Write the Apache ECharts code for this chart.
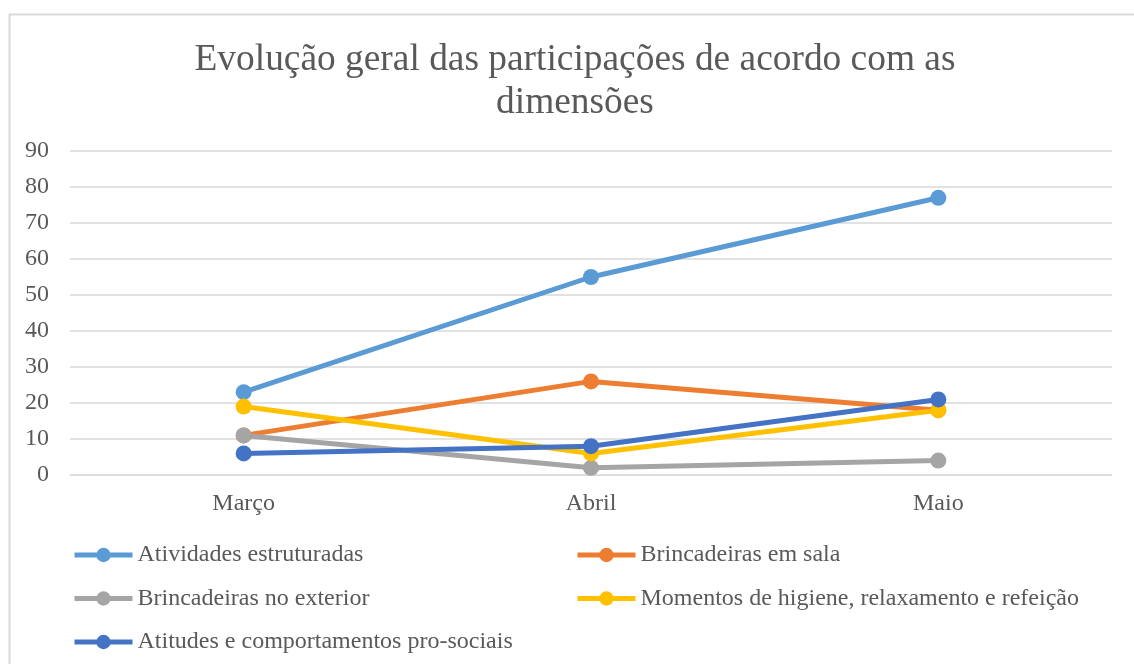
<!DOCTYPE html>
<html>
<head>
    <meta charset="utf-8">
    <script src="https://cdn.jsdelivr.net/npm/echarts@6/dist/echarts.min.js"></script>
    <style>
        html, body { margin: 0; padding: 0; background: #fff; }
        #chart { width: 1134px; height: 664px; }
    </style>
</head>
<body>
    <div id="chart"></div>
    <script>
        // data
        var months = ['Março', 'Abril', 'Maio'];
        var seriesNames = [
            'Atividades estruturadas',
            'Brincadeiras em sala',
            'Brincadeiras no exterior',
            'Momentos de higiene, relaxamento e refeição',
            'Atitudes e comportamentos pro-sociais'
        ];
        var atividades = [23, 55, 77];
        var brincSala = [11, 26, 18];
        var brincExterior = [11, 2, 4];
        var momentos = [19, 6, 18];
        var atitudes = [6, 8, 21];

        var values = [atividades, brincSala, brincExterior, momentos, atitudes];
        var colors = ['#5B9BD5', '#ED7D31', '#A5A5A5', '#FFC000', '#4472C4'];
        var font = "'Liberation Serif', 'Times New Roman', serif";

        var chart = echarts.init(document.getElementById('chart'), null, { renderer: 'canvas' });

        var series = seriesNames.map(function (name, i) {
            return {
                name: name,
                type: 'line',
                data: values[i],
                symbol: 'circle',
                symbolSize: 16,
                color: colors[i],
                lineStyle: { width: 5, color: colors[i] },
                itemStyle: { color: colors[i] },
                animation: false
            };
        });

        var legendBase = {
            orient: 'vertical',
            padding: 0,
            itemWidth: 58,
            itemHeight: 18,
            itemGap: 19.5,
            lineStyle: { width: 5 },
            textStyle: { fontFamily: font, fontSize: 24, color: '#595959', lineHeight: 24 }
        };

        var option = {
            backgroundColor: '#fff',
            title: {
                text: 'Evolução geral das participações de acordo com as\ndimensões',
                left: 570,
                top: 34,
                textAlign: 'center',
                textStyle: {
                    fontFamily: font,
                    fontSize: 37.4,
                    fontWeight: 'normal',
                    color: '#595959',
                    lineHeight: 43
                }
            },
            graphic: [{
                type: 'rect',
                left: 7,
                top: 12,
                shape: { width: 1150, height: 700 },
                style: { fill: null, stroke: '#d9d9d9', lineWidth: 2 },
                silent: true
            }],
            legend: [
                Object.assign({}, legendBase, {
                    left: 72,
                    top: 543,
                    data: [seriesNames[0], seriesNames[2], seriesNames[4]]
                }),
                Object.assign({}, legendBase, {
                    left: 575,
                    top: 543,
                    data: [seriesNames[1], seriesNames[3]]
                })
            ],
            grid: {
                left: 70,
                right: 22,
                top: 151,
                bottom: 189,
                containLabel: false
            },
            xAxis: {
                type: 'category',
                data: months,
                boundaryGap: true,
                axisLine: { lineStyle: { color: '#d9d9d9', width: 1 } },
                axisTick: { show: false },
                axisLabel: {
                    fontFamily: font,
                    fontSize: 24,
                    color: '#595959',
                    margin: 17
                }
            },
            yAxis: {
                type: 'value',
                min: 0,
                max: 90,
                interval: 10,
                axisLine: { show: false },
                axisTick: { show: false },
                axisLabel: {
                    fontFamily: font,
                    fontSize: 24,
                    color: '#595959',
                    margin: 21
                },
                splitLine: { lineStyle: { color: '#d9d9d9', width: 1.5 } }
            },
            series: series
        };
        chart.setOption(option);
    </script>
</body>
</html>
